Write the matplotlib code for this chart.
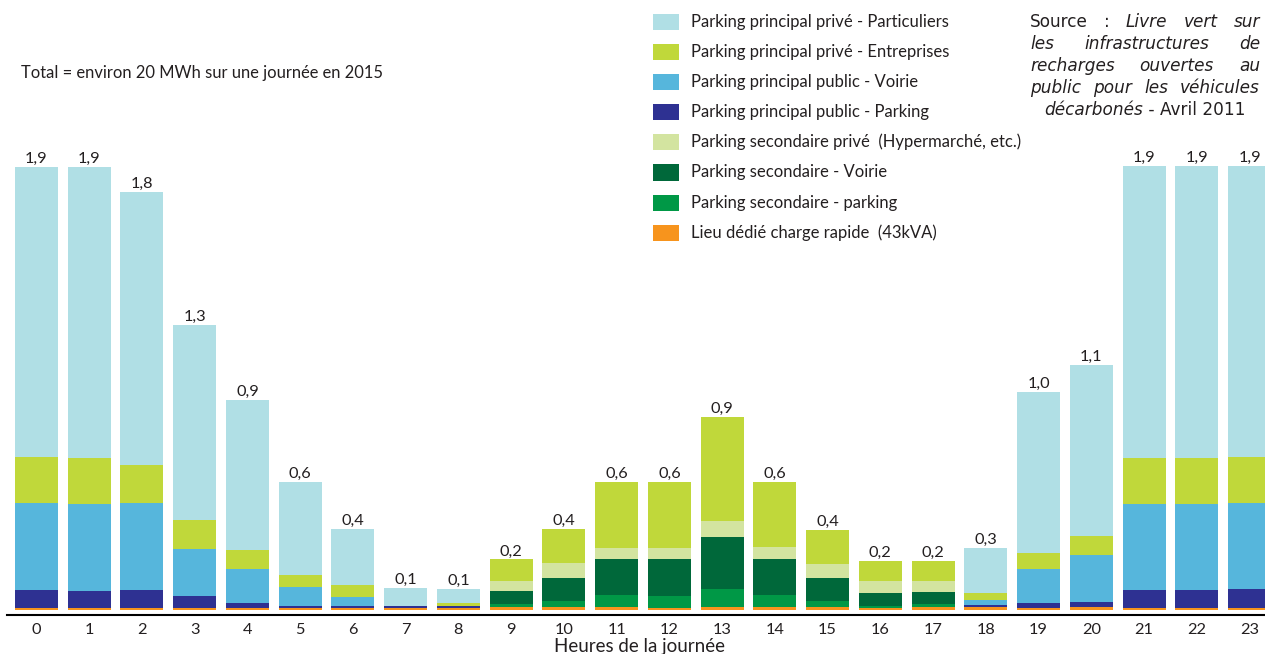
import matplotlib
matplotlib.use("Agg")
import matplotlib.pyplot as plt
from matplotlib.patches import Rectangle
import numpy as np

# ---------------- data (MWh per hour) ----------------
hours = list(range(24))
tick_labels = [str(h) for h in hours]
total_labels = ["1,9", "1,9", "1,8", "1,3", "0,9", "0,6", "0,4", "0,1", "0,1", "0,2",
                "0,4", "0,6", "0,6", "0,9", "0,6", "0,4", "0,2", "0,2", "0,3", "1,0",
                "1,1", "1,9", "1,9", "1,9"]

rapide = [0.009, 0.009, 0.009, 0.009, 0.009, 0.009, 0.009, 0.009, 0.009, 0.011,
          0.011, 0.011, 0.009, 0.011, 0.011, 0.011, 0.009, 0.011, 0.011, 0.009,
          0.011, 0.009, 0.009, 0.009]
sec_parking = [0, 0, 0, 0, 0, 0, 0, 0, 0, 0.013,
               0.028, 0.054, 0.051, 0.079, 0.054, 0.028, 0.009, 0.015, 0, 0,
               0, 0, 0, 0]
sec_voirie = [0, 0, 0, 0, 0, 0, 0, 0, 0, 0.056,
              0.099, 0.154, 0.159, 0.223, 0.154, 0.099, 0.056, 0.051, 0, 0,
              0, 0, 0, 0]
sec_prive = [0, 0, 0, 0, 0, 0, 0, 0, 0, 0.043,
             0.064, 0.047, 0.047, 0.069, 0.051, 0.060, 0.051, 0.047, 0, 0,
             0, 0, 0, 0]
pub_parking = [0.077, 0.073, 0.077, 0.051, 0.021, 0.009, 0.009, 0.009, 0.009, 0,
               0, 0, 0, 0, 0, 0, 0, 0, 0.011, 0.021,
               0.024, 0.077, 0.077, 0.081]
pub_voirie = [0.373, 0.373, 0.373, 0.202, 0.146, 0.081, 0.039, 0, 0, 0,
              0, 0, 0, 0, 0, 0, 0, 0, 0.021, 0.146,
              0.202, 0.369, 0.369, 0.369]
prive_entreprises = [0.197, 0.197, 0.163, 0.124, 0.081, 0.051, 0.051, 0, 0.013, 0.094,
                     0.146, 0.283, 0.283, 0.446, 0.279, 0.146, 0.086, 0.086, 0.030, 0.069,
                     0.081, 0.197, 0.197, 0.197]
prive_particuliers = [1.244, 1.248, 1.171, 0.836, 0.643, 0.399, 0.240, 0.077, 0.060, 0,
                      0, 0, 0, 0, 0, 0, 0, 0, 0.193, 0.690,
                      0.733, 1.252, 1.252, 1.248]

series_names = ["Lieu dédié charge rapide  (43kVA)",
                "Parking secondaire - parking",
                "Parking secondaire - Voirie",
                "Parking secondaire privé  (Hypermarché, etc.)",
                "Parking principal public - Parking",
                "Parking principal public - Voirie",
                "Parking principal privé - Entreprises",
                "Parking principal privé - Particuliers"]
series_values = [rapide, sec_parking, sec_voirie, sec_prive,
                 pub_parking, pub_voirie, prive_entreprises, prive_particuliers]
series_colors = ["#F7941D", "#009846", "#00683A", "#D3E4A0",
                 "#2E3192", "#56B6DC", "#C0D83A", "#B0DFE5"]

# ---------------- figure ----------------
W, H = 1265, 654
fig = plt.figure(figsize=(W / 100, H / 100), dpi=100)
plt.rcParams['font.family'] = ['Lato', 'DejaVu Sans']
TXT = "#231F20"


def fx(x):
    return x / W


def fy(y):
    return 1 - y / H


ax = fig.add_axes([fx(7), fy(615), fx(1265) - fx(7), fy(0) - fy(615)])
px_per_unit = 233.2
ax.set_xlim((7 - 36.5) / 52.74, (1265 - 36.5) / 52.74)
ax.set_ylim(-5 / px_per_unit, 610 / px_per_unit)

bottom = np.zeros(len(hours))
for name, vals, col in zip(series_names, series_values, series_colors):
    vals = np.asarray(vals, dtype=float)
    ax.bar(hours, vals, 0.815, bottom=bottom, color=col, linewidth=0, label=name)
    bottom += vals

for i, top in enumerate(bottom):
    ax.annotate(total_labels[i], (hours[i], top), xytext=(0, 4), textcoords='offset pixels',
                ha='center', va='baseline', fontsize=11.8, color=TXT)

ax.set_xticks(hours)
ax.set_xticklabels(tick_labels)
ax.set_yticks([])
ax.tick_params(axis='x', length=0, pad=5.5, labelsize=11.8, labelcolor=TXT)
for s in ['top', 'left', 'right']:
    ax.spines[s].set_visible(False)
ax.spines['bottom'].set_linewidth(1.5)
ax.spines['bottom'].set_color('black')

fig.text(fx(639), fy(652), "Heures de la journée", ha='center', va='baseline',
         fontsize=13.5, color=TXT)

fig.text(fx(21), fy(78), "Total = environ 20 MWh sur une journée en 2015",
         ha='left', va='baseline', fontsize=11.9, color=TXT)

# ---------------- legend ----------------
for k, (name, col) in enumerate(zip(series_names[::-1], series_colors[::-1])):
    cy = 22 + 30.1 * k
    fig.add_artist(Rectangle((fx(653), fy(cy + 8)), 26 / W, 16 / H,
                             transform=fig.transFigure, facecolor=col, edgecolor='none'))
    fig.text(fx(691), fy(cy + 5), name, ha='left', va='baseline', fontsize=12, color=TXT)

# ---------------- source (justified) ----------------
renderer = fig.canvas.get_renderer()
SRC_FS = 12.2
src_kw = dict(fontsize=SRC_FS, color=TXT, family='DejaVu Sans', va='baseline', ha='left')


def word_width(word, style):
    t = fig.text(0, 0, word, fontstyle=style, **src_kw)
    w = t.get_window_extent(renderer).width
    t.remove()
    return w


src_lines = [
    [("Source", "normal"), (":", "normal"), ("Livre", "italic"), ("vert", "italic"), ("sur", "italic")],
    [("les", "italic"), ("infrastructures", "italic"), ("de", "italic")],
    [("recharges", "italic"), ("ouvertes", "italic"), ("au", "italic")],
    [("public", "italic"), ("pour", "italic"), ("les", "italic"), ("véhicules", "italic")],
]
x0, x1 = 1030, 1260
base0, lstep = 26.7, 22.1
for li, words in enumerate(src_lines):
    widths = [word_width(w, s) for w, s in words]
    gap = (x1 - x0 - sum(widths)) / (len(words) - 1)
    x = x0
    for (w, s), ww in zip(words, widths):
        fig.text(fx(x), fy(base0 + li * lstep), w, fontstyle=s, **src_kw)
        x += ww + gap

last = [("décarbonés", "italic"), (" - Avril 2011", "normal")]
lw = [word_width(w, s) for w, s in last]
x = 1145 - sum(lw) / 2
for (w, s), ww in zip(last, lw):
    fig.text(fx(x), fy(base0 + 4 * lstep), w, fontstyle=s, **src_kw)
    x += ww

fig.savefig("out.png", dpi=100)
